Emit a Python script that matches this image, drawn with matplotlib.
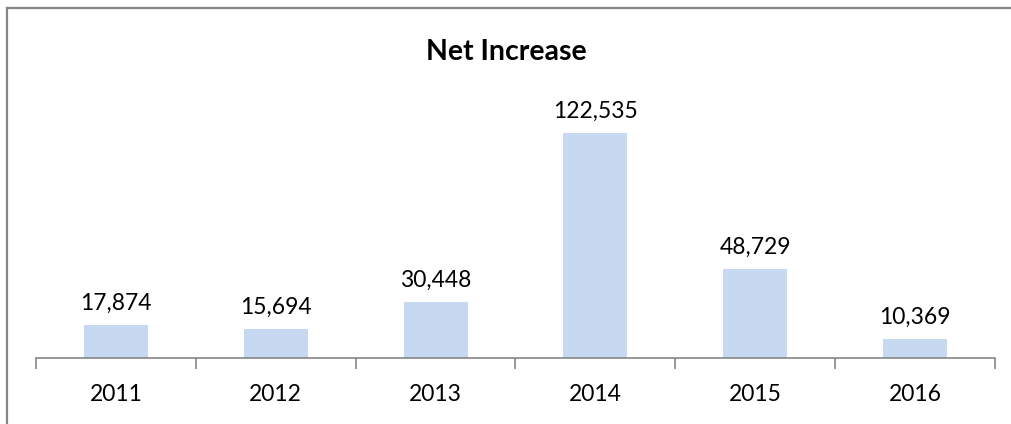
import numpy as np
import matplotlib
matplotlib.use("Agg")
from matplotlib import pyplot as plt
from matplotlib.lines import Line2D

years = ["2011", "2012", "2013", "2014", "2015", "2016"]
net_increase = [17874, 15694, 30448, 122535, 48729, 10369]

plt.rcParams['font.family'] = ['Lato', 'DejaVu Sans']

fig = plt.figure(figsize=(10.12, 4.24), dpi=100)
ax = fig.add_axes([36 / 1012, 66 / 424, (995 - 36) / 1012, (358 - 101) / 424])

x = np.arange(len(years))
ax.bar(x, net_increase, width=0.4, color="#C6D9F1")
for xi, v in zip(x, net_increase):
    ax.annotate(f"{v:,}", (xi, v), xytext=(0, 8), textcoords="offset points",
                ha="center", va="bottom", fontsize=16.5)

ax.set_xlim(-0.5, len(years) - 0.5)
ax.set_ylim(0, 140000)
ax.set_yticks([])
for side in ["top", "right", "left"]:
    ax.spines[side].set_visible(False)
ax.spines["bottom"].set_color("#868686")
ax.spines["bottom"].set_linewidth(1.2)

# tick marks sit between the categories, labels in the middle
ax.set_xticks(np.arange(-0.5, len(years)))
ax.set_xticklabels([])
ax.tick_params(axis="x", which="major", length=8, color="#868686", width=1.2)
ax.set_xticks(x, minor=True)
ax.set_xticklabels(years, minor=True, fontsize=16.5)
ax.tick_params(axis="x", which="minor", length=0, pad=19)

fig.text(0.5, 1 - 52 / 424, "Net Increase", ha="center", va="center",
         fontsize=20.5, fontweight="bold")

# chart border (only left and top edges are inside the crop)
fig.add_artist(Line2D([7 / 1012, 7 / 1012], [0, 1 - 8 / 424],
                      transform=fig.transFigure, color="#868686", linewidth=1.6))
fig.add_artist(Line2D([7 / 1012, 1], [1 - 8 / 424, 1 - 8 / 424],
                      transform=fig.transFigure, color="#868686", linewidth=1.6))

fig.savefig("out.png", dpi=100)
